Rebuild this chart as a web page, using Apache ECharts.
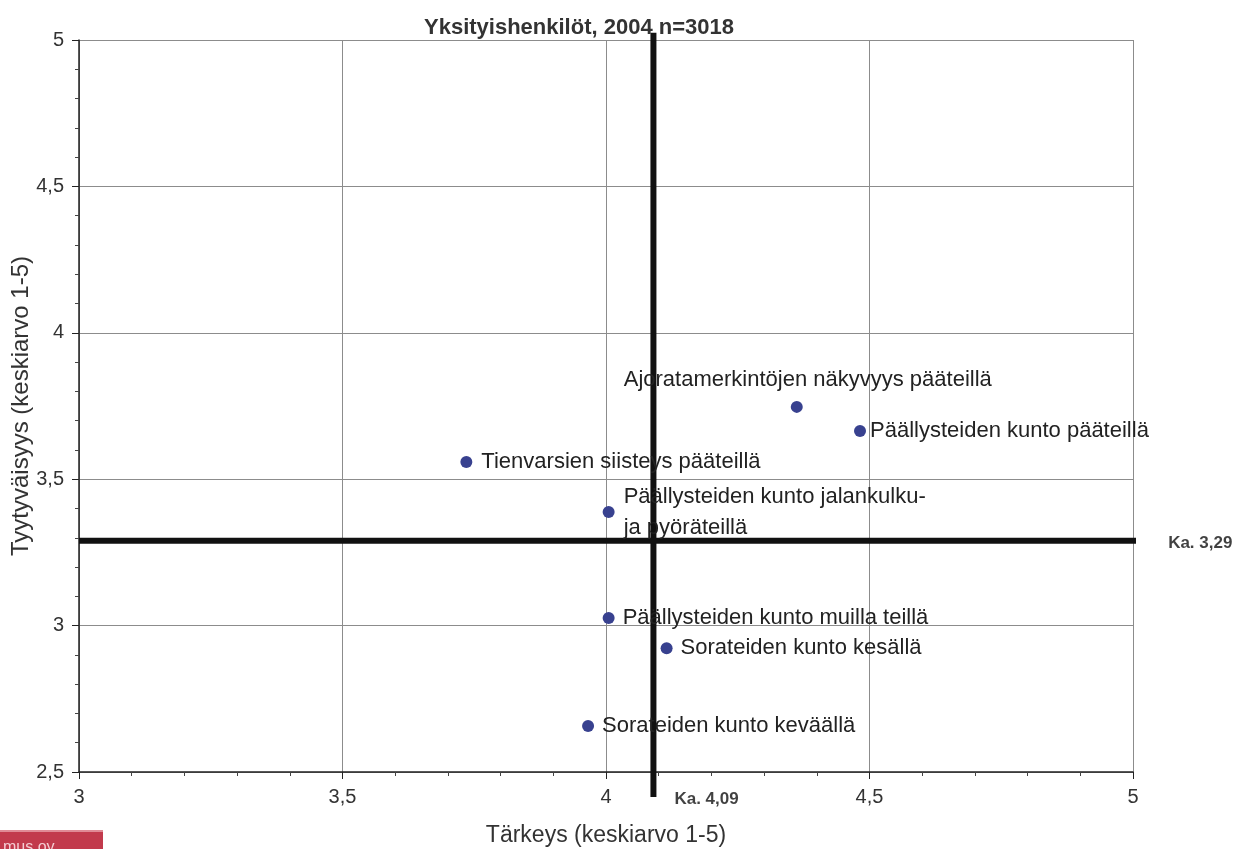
<!DOCTYPE html>
<html><head><meta charset="utf-8">
<script src="https://cdn.jsdelivr.net/npm/echarts@6/dist/echarts.min.js"></script>
<style>html,body{margin:0;padding:0;background:#fff}#c{width:1251px;height:849px}</style>
</head><body><div id="c"></div>
<script>
const titleText = 'Yksityishenkilöt, 2004 n=3018';
const xName = 'Tärkeys (keskiarvo 1-5)';
const yName = 'Tyytyväisyys (keskiarvo 1-5)';
const pointNames = [
  'Ajoratamerkintöjen näkyvyys pääteillä',
  'Päällysteiden kunto pääteillä',
  'Tienvarsien siisteys pääteillä',
  'Päällysteiden kunto jalankulku-\nja pyöräteillä',
  'Päällysteiden kunto muilla teillä',
  'Sorateiden kunto kesällä',
  'Sorateiden kunto keväällä'
];
const importance = [4.362, 4.482, 3.735, 4.005, 4.005, 4.115, 3.966];
const satisfaction = [3.747, 3.665, 3.559, 3.388, 3.026, 2.923, 2.657];
const meanImportance = 4.09;
const meanSatisfaction = 3.29;
const meanLabels = ['Ka. 4,09', 'Ka. 3,29'];

const FONT = 'Liberation Sans, Arial, sans-serif';
const chart = echarts.init(document.getElementById('c'));
const labelCfg = [
  {position: 'top', offset: [11, 0], distance: 5},
  {position: 'right', distance: 4},
  {position: 'right', distance: 9},
  {position: 'right', distance: 9},
  {position: 'right', distance: 8},
  {position: 'right', distance: 8},
  {position: 'right', distance: 8}
];
const pts = importance.map((x, i) => ({
  value: [x, satisfaction[i]],
  name: pointNames[i],
  label: labelCfg[i]
}));
const fmt = v => String(v).replace('.', ',');
const axisCommon = {
  axisLine: {show: true, onZero: false, lineStyle: {color: '#222', width: 1.5}},
  axisTick: {show: true, length: 7, lineStyle: {color: '#222'}},
  minorTick: {show: true, splitNumber: 5, length: 4, lineStyle: {color: '#444'}},
  axisLabel: {formatter: fmt, fontFamily: FONT, fontSize: 20, color: '#333', margin: 15},
  splitLine: {show: true, lineStyle: {color: '#8c8c8c', width: 1}},
  nameLocation: 'middle',
  nameMoveOverlap: false
};
chart.setOption({
  animation: false,
  title: {text: titleText, left: 574, top: 12, textAlign: 'center',
    textStyle: {fontFamily: FONT, fontSize: 22, fontWeight: 'bold', color: '#333'}},
  grid: {left: 79, right: 118, top: 40, bottom: 77, containLabel: false, outerBoundsMode: 'none'},
  xAxis: Object.assign({type: 'value', min: 3, max: 5, interval: 0.5, name: xName, nameGap: 52,
    nameTextStyle: {fontFamily: FONT, fontSize: 23, color: '#333'}}, axisCommon),
  yAxis: Object.assign({type: 'value', min: 2.5, max: 5, interval: 0.5, name: yName, nameGap: 46,
    nameTextStyle: {fontFamily: FONT, fontSize: 24, color: '#333'}}, axisCommon),
  series: [
    {type: 'line', data: [[meanImportance, 2.415], [meanImportance, 5.025]], clip: false,
      symbol: 'none', silent: true, lineStyle: {color: '#111', width: 6}, z: 3},
    {type: 'line', data: [[3, meanSatisfaction], [5.042, meanSatisfaction]], clip: false,
      symbol: 'none', silent: true, lineStyle: {color: '#111', width: 6}, z: 3},
    {type: 'scatter', symbolSize: 12, itemStyle: {color: '#38418f', opacity: 1},
      data: pts,
      label: {show: true, formatter: p => p.name, fontFamily: FONT, fontSize: 22,
        color: '#222', lineHeight: 31},
      z: 5},
    {type: 'scatter', symbolSize: 0, clip: false, silent: true,
      data: [
        {value: [meanImportance, 2.5], name: meanLabels[0], label: {offset: [16, 27]}},
        {value: [5.042, meanSatisfaction], name: meanLabels[1], label: {offset: [8, 3]}}
      ],
      label: {show: true, position: 'right', formatter: p => p.name,
        fontFamily: FONT, fontSize: 17, fontWeight: 'bold', color: '#111'}, z: 6}
  ],
  graphic: [
    {type: 'rect', left: 0, top: 830, shape: {width: 103, height: 19}, style: {fill: '#c23a4c'}},
    {type: 'rect', left: 0, top: 830, shape: {width: 103, height: 2}, style: {fill: '#e08a95'}},
    {type: 'text', left: 3, top: 840, style: {text: 'mus oy', fill: '#f4cdd3', font: '16px ' + FONT}}
  ]
});
</script></body></html>
